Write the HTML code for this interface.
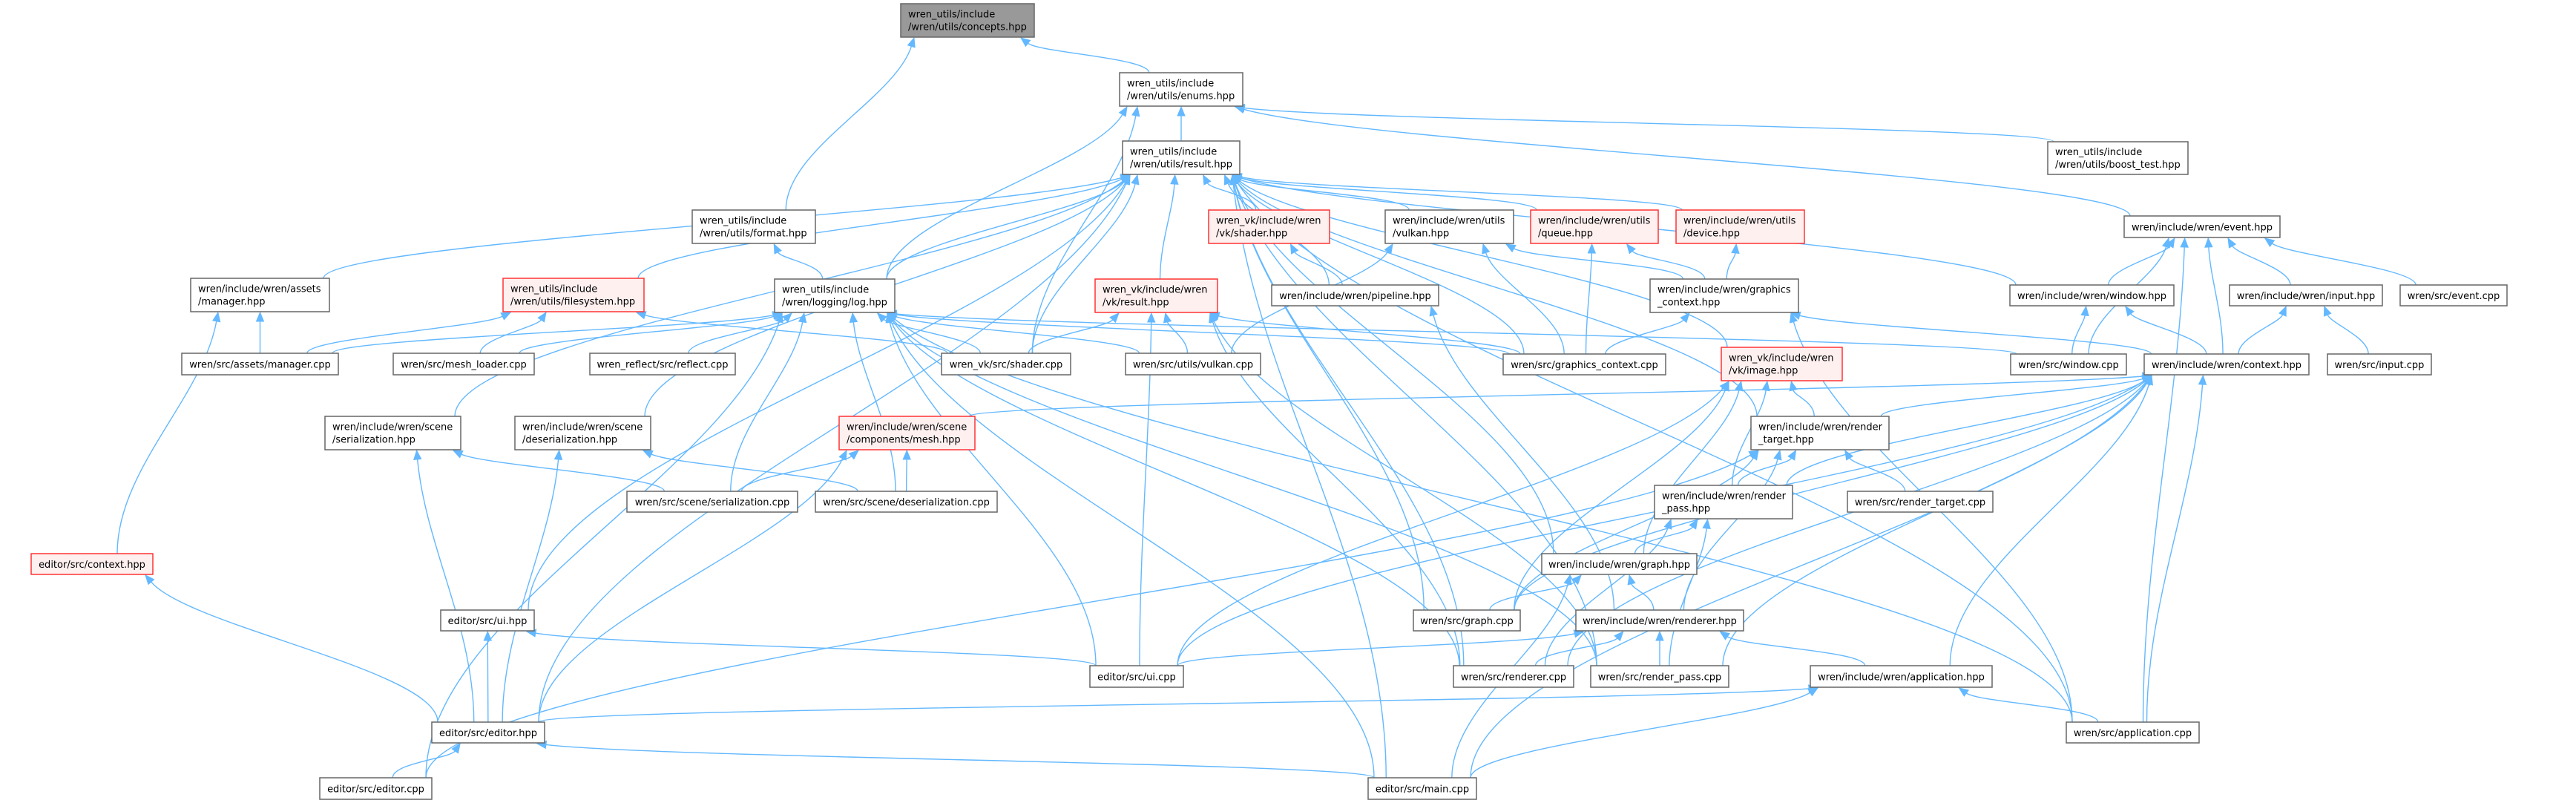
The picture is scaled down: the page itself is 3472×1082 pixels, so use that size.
<!DOCTYPE html>
<html><head><meta charset="utf-8"><style>
html,body{margin:0;padding:0;background:#fff;}
svg{display:block;}
text{font-family:"DejaVu Sans","Liberation Sans",sans-serif;font-size:13px;fill:#000;}
</style></head><body>
<svg id="g" width="3472" height="1082" viewBox="0 0 3472 1082" xmlns="http://www.w3.org/2000/svg">
<g id="edges" fill="none" stroke="#63b8ff" stroke-width="1.4"></g>
<g id="arrows" fill="#63b8ff" stroke="#63b8ff"></g>
<g id="nodes"></g>
</svg>
<div id="labels" style="display:none">
wren_utils/include /wren/utils/concepts.hpp; wren_utils/include /wren/utils/enums.hpp; wren_utils/include /wren/utils/boost_test.hpp; wren_utils/include /wren/utils/result.hpp; wren/include/wren/event.hpp; wren_utils/include /wren/utils/format.hpp; wren_vk/include/wren /vk/shader.hpp; wren/include/wren/utils /vulkan.hpp; wren/include/wren/utils /queue.hpp; wren/include/wren/utils /device.hpp; wren/include/wren/window.hpp; wren/include/wren/input.hpp; wren/src/event.cpp; wren/include/wren/assets /manager.hpp; wren_utils/include /wren/utils/filesystem.hpp; wren_utils/include /wren/logging/log.hpp; wren_vk/include/wren /vk/result.hpp; wren/include/wren/pipeline.hpp; wren/include/wren/graphics _context.hpp; wren/include/wren/context.hpp; wren/src/window.cpp; wren/src/input.cpp; wren/src/assets/manager.cpp; wren/src/mesh_loader.cpp; wren_reflect/src/reflect.cpp; wren_vk/src/shader.cpp; wren/src/utils/vulkan.cpp; wren/src/graphics_context.cpp; wren_vk/include/wren /vk/image.hpp; wren/include/wren/scene /serialization.hpp; wren/include/wren/scene /deserialization.hpp; wren/include/wren/scene /components/mesh.hpp; wren/include/wren/render _target.hpp; wren/src/scene/serialization.cpp; wren/src/scene/deserialization.cpp; wren/src/render_target.cpp; wren/include/wren/render _pass.hpp; editor/src/context.hpp; wren/include/wren/graph.hpp; editor/src/ui.hpp; wren/src/graph.cpp; wren/include/wren/renderer.hpp; editor/src/ui.cpp; wren/src/renderer.cpp; wren/src/render_pass.cpp; wren/include/wren/application.hpp; editor/src/editor.hpp; wren/src/application.cpp; editor/src/editor.cpp; editor/src/main.cpp
</div>
<script>
var N={
concepts:[1214,1394,5,50,["wren_utils/include","/wren/utils/concepts.hpp"],2],
enums:[1509,1675,98,143,["wren_utils/include","/wren/utils/enums.hpp"]],
boost:[2760,2949,191,235,["wren_utils/include","/wren/utils/boost_test.hpp"]],
result:[1513,1671,190,235,["wren_utils/include","/wren/utils/result.hpp"]],
event:[2863,3073,291,320,["wren/include/wren/event.hpp"]],
format:[933,1099,283,328,["wren_utils/include","/wren/utils/format.hpp"]],
vkshader:[1629,1792,283,328,["wren_vk/include/wren","/vk/shader.hpp"],1],
vulkanh:[1867,2040,283,328,["wren/include/wren/utils","/vulkan.hpp"]],
queue:[2063,2235,283,328,["wren/include/wren/utils","/queue.hpp"],1],
device:[2259,2432,283,328,["wren/include/wren/utils","/device.hpp"],1],
window:[2709,2930,384,412,["wren/include/wren/window.hpp"]],
input:[3005,3211,384,412,["wren/include/wren/input.hpp"]],
eventcpp:[3235,3379,384,412,["wren/src/event.cpp"]],
assetsh:[257,444,375,420,["wren/include/wren/assets","/manager.hpp"]],
fs:[678,868,375,420,["wren_utils/include","/wren/utils/filesystem.hpp"],1],
log:[1044,1206,376,421,["wren_utils/include","/wren/logging/log.hpp"]],
vkresult:[1476,1641,376,421,["wren_vk/include/wren","/vk/result.hpp"],1],
pipeline:[1714,1939,384,412,["wren/include/wren/pipeline.hpp"]],
gch:[2224,2424,376,421,["wren/include/wren/graphics","_context.hpp"]],
ctx:[2890,3112,477,505,["wren/include/wren/context.hpp"]],
windowcpp:[2710,2866,477,505,["wren/src/window.cpp"]],
inputcpp:[3137,3277,477,505,["wren/src/input.cpp"]],
assetscpp:[245,456,476,505,["wren/src/assets/manager.cpp"]],
meshloader:[530,720,476,505,["wren/src/mesh_loader.cpp"]],
reflect:[795,991,476,505,["wren_reflect/src/reflect.cpp"]],
shadercpp:[1269,1443,476,505,["wren_vk/src/shader.cpp"]],
vulkancpp:[1517,1699,476,505,["wren/src/utils/vulkan.cpp"]],
gccpp:[2026,2245,477,505,["wren/src/graphics_context.cpp"]],
image:[2320,2483,468,513,["wren_vk/include/wren","/vk/image.hpp"],1],
serh:[438,621,561,606,["wren/include/wren/scene","/serialization.hpp"]],
deserh:[694,877,561,606,["wren/include/wren/scene","/deserialization.hpp"]],
mesh:[1131,1314,561,606,["wren/include/wren/scene","/components/mesh.hpp"],1],
rth:[2360,2546,561,606,["wren/include/wren/render","_target.hpp"]],
sercpp:[845,1075,662,690,["wren/src/scene/serialization.cpp"]],
desercpp:[1099,1344,662,690,["wren/src/scene/deserialization.cpp"]],
rtcpp:[2490,2686,662,690,["wren/src/render_target.cpp"]],
rph:[2230,2416,654,699,["wren/include/wren/render","_pass.hpp"]],
ectx:[42,206,746,774,["editor/src/context.hpp"],1],
graphh:[2078,2287,746,774,["wren/include/wren/graph.hpp"]],
uih:[594,720,822,850,["editor/src/ui.hpp"]],
graphcpp:[1905,2049,822,850,["wren/src/graph.cpp"]],
rendererh:[2124,2350,822,850,["wren/include/wren/renderer.hpp"]],
uicpp:[1469,1595,897,926,["editor/src/ui.cpp"]],
renderercpp:[1959,2121,897,926,["wren/src/renderer.cpp"]],
rpcpp:[2144,2330,897,926,["wren/src/render_pass.cpp"]],
apph:[2440,2685,897,926,["wren/include/wren/application.hpp"]],
editorh:[582,734,973,1001,["editor/src/editor.hpp"]],
appcpp:[2785,2964,973,1001,["wren/src/application.cpp"]],
editorcpp:[431,582,1048,1077,["editor/src/editor.cpp"]],
main:[1844,1990,1048,1077,["editor/src/main.cpp"]]
};
var E={
concepts:["enums","format"],
enums:["result","log","shadercpp","boost","event"],
result:["vkshader","vkresult","vulkanh","queue","device","window","image","rth","gccpp","appcpp","pipeline","shadercpp","graphcpp","rpcpp","renderercpp","fs","assetsh","serh","deserh","editorh","uih","log","main","graphh"],
format:["log"],
log:["assetscpp","meshloader","reflect","shadercpp","vulkancpp","gccpp","sercpp","desercpp","uicpp","main","renderercpp","rpcpp","appcpp","editorcpp","windowcpp"],
fs:["assetscpp","meshloader","shadercpp"],
assetsh:["assetscpp","ectx"],
vkshader:["pipeline"],
vkresult:["shadercpp","vulkancpp","gccpp","renderercpp","rpcpp","uicpp"],
vulkanh:["gch","gccpp","vulkancpp"],
queue:["gch","gccpp"],
device:["gch"],
gch:["gccpp","ctx","appcpp"],
pipeline:["rendererh"],
event:["window","input","eventcpp","ctx","windowcpp","appcpp"],
window:["windowcpp","ctx"],
input:["ctx","inputcpp"],
ctx:["mesh","rth","rph","graphcpp","uicpp","renderercpp","rpcpp","apph","appcpp","main"],
image:["rth","rph","graphh","graphcpp","uicpp"],
rth:["rph","rtcpp","graphcpp","rendererh","editorcpp"],
rph:["graphh","rpcpp","renderercpp"],
graphh:["graphcpp","rendererh","main"],
rendererh:["renderercpp","rpcpp","apph","uicpp"],
apph:["appcpp","main","editorh"],
mesh:["sercpp","desercpp","editorh"],
serh:["sercpp","editorh"],
deserh:["desercpp","editorh"],
uih:["uicpp","editorh"],
ectx:["editorh"],
editorh:["editorcpp","main"]
};
var NS="http://www.w3.org/2000/svg";
function el(t,a,p){var e=document.createElementNS(NS,t);for(var k in a)e.setAttribute(k,a[k]);p.appendChild(e);return e;}
var ge=document.getElementById("edges"),ga=document.getElementById("arrows"),gn=document.getElementById("nodes");
function clamp(v,a,b){return Math.max(a,Math.min(b,v));}
for(var p in E){E[p].forEach(function(c){
 var P=N[p],C=N[c];
 var pcx=(P[0]+P[1])/2,ccx=(C[0]+C[1])/2;
 var sx=clamp(ccx+(pcx-ccx)*0.15,C[0]+8,C[1]-8),sy=C[2];
 var ex,ey,c2x,c2y;
 var d=C[2]-P[3];
 if(d<25 && Math.abs(pcx-ccx)>(P[1]-P[0])/2+40){
   ex=(ccx<pcx)?P[0]:P[1]; ey=(P[2]+P[3])/2+6;
   c2x=ex+((ccx<pcx)?-80:80); c2y=ey;
 } else {
   ex=clamp(pcx+(ccx-pcx)*0.25,P[0]+10,P[1]-10); ey=P[3]+1;
   c2x=ex+(sx-ex)*0.15; c2y=ey+Math.max(d*0.35,20);
 }
 var c1x=sx,c1y=sy-Math.max(Math.abs(d)*0.35,20);
 var vx=ex-c2x,vy=ey-c2y,L=Math.sqrt(vx*vx+vy*vy)||1;vx/=L;vy/=L;
 var tx=ex-vx*12,ty=ey-vy*12;
 el("path",{d:"M"+sx+","+sy+" C"+c1x+","+c1y+" "+c2x+","+c2y+" "+tx+","+ty},ge);
 var nx=-vy,ny=vx;
 el("polygon",{points:ex+","+ey+" "+(tx+nx*5)+","+(ty+ny*5)+" "+(tx-nx*5)+","+(ty-ny*5)},ga);
});}
for(var k in N){var n=N[k];
 var fill=n[5]==2?"#999999":(n[5]==1?"#fff0f0":"#ffffff");
 var st=n[5]==1?"#ff3333":"#666666";
 el("rect",{x:n[0],y:n[2],width:n[1]-n[0],height:n[3]-n[2],fill:fill,stroke:st,"stroke-width":1.5},gn);
 var cx=(n[0]+n[1])/2,cy=(n[2]+n[3])/2;
 if(n[4].length==1){var t=el("text",{x:cx,y:cy+5,"text-anchor":"middle"},gn);t.textContent=n[4][0];}
 else{for(var i=0;i<2;i++){var t=el("text",{x:n[0]+10,y:cy-4+i*17},gn);t.textContent=n[4][i];}}
}
</script>
</body></html>
